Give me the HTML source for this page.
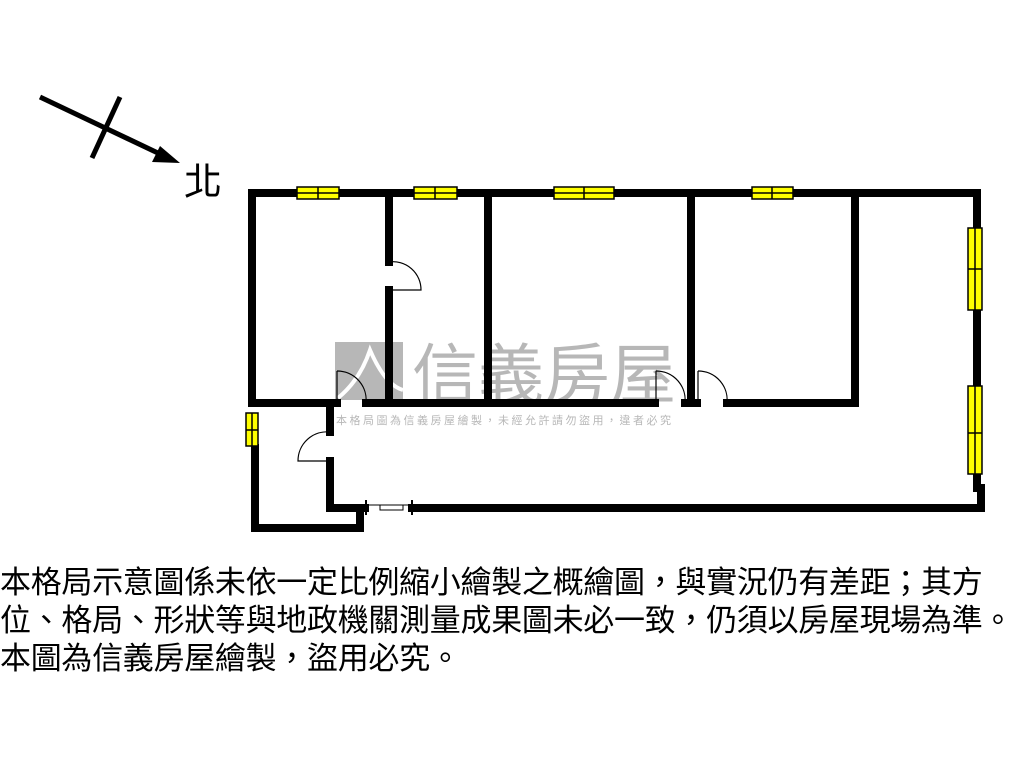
<!DOCTYPE html>
<html><head><meta charset="utf-8"><style>
body{margin:0;width:1024px;height:768px;background:#fff;overflow:hidden;position:relative;font-family:"Liberation Sans","Noto Sans CJK TC",sans-serif}
.t{position:absolute;left:0;top:561px;font-size:31px;line-height:38px;color:#000;white-space:nowrap;letter-spacing:-0.3px;font-family:"Noto Sans CJK TC","WenQuanYi Zen Hei",sans-serif}
</style></head><body>
<svg width="1024" height="768" style="position:absolute;left:0;top:0">
<g opacity="0.6">
<rect x="335" y="342" width="68" height="58" fill="#888"/>
<path d="M338 398 Q360 380 370 350 Q385 385 403 390" stroke="#fff" stroke-width="4" fill="none"/>
<text x="412" y="398" font-size="66" fill="#888" font-family="Noto Sans CJK TC,sans-serif">信義房屋</text>
<text x="336" y="424" font-size="11" fill="#888" font-family="Noto Sans CJK TC,sans-serif" letter-spacing="2.5">本格局圖為信義房屋繪製，未經允許請勿盜用，違者必究</text>
</g>
<line x1="40" y1="97" x2="160" y2="154" stroke="#000" stroke-width="5"/>
<polygon points="180,163 152,162 160,146" fill="#000"/>
<line x1="120" y1="97" x2="92" y2="158" stroke="#000" stroke-width="5"/>
<text x="184" y="195" font-size="38" font-family="Noto Sans CJK TC,sans-serif">北</text>
<g stroke="#000" stroke-width="8" fill="none" stroke-linecap="square">
<line x1="252" y1="193" x2="977" y2="193"/>
<line x1="252" y1="193" x2="252" y2="403"/>
<line x1="977" y1="193" x2="977" y2="488"/>
<line x1="981" y1="488" x2="981" y2="508"/>
<line x1="412" y1="508" x2="981" y2="508"/>
<line x1="389" y1="193" x2="389" y2="262"/>
<line x1="389" y1="290" x2="389" y2="403"/>
<line x1="488" y1="193" x2="488" y2="403"/>
<line x1="691" y1="193" x2="691" y2="403"/>
<line x1="855" y1="193" x2="855" y2="403"/>
<line x1="252" y1="403" x2="337" y2="403"/>
<line x1="366" y1="403" x2="655" y2="403"/>
<line x1="685" y1="403" x2="697" y2="403"/>
<line x1="727" y1="403" x2="855" y2="403"/>
<line x1="255" y1="448" x2="255" y2="528"/>
<line x1="255" y1="528" x2="360" y2="528"/>
<line x1="360" y1="508" x2="360" y2="528"/>
<line x1="330" y1="508" x2="365" y2="508"/>
<line x1="330" y1="403" x2="330" y2="432"/>
<line x1="330" y1="461" x2="330" y2="508"/>
</g>
<line x1="366" y1="505" x2="412" y2="505" stroke="#000" stroke-width="1"/>
<rect x="380" y="505" width="23" height="5" fill="#fff" stroke="#000" stroke-width="1"/>
<line x1="366" y1="500" x2="366" y2="515" stroke="#000" stroke-width="2"/>
<line x1="412" y1="500" x2="412" y2="515" stroke="#000" stroke-width="2"/>
<g stroke="#000" stroke-width="1.2" fill="none">
<path d="M389 262 A28 28 0 0 1 421 290 L389 290"/>
<path d="M337 371 A29 29 0 0 1 366 403"/><line x1="337" y1="371" x2="337" y2="407"/>
<path d="M656 371 A29 29 0 0 1 685 403"/><line x1="656" y1="371" x2="656" y2="407"/>
<path d="M698 371 A29 29 0 0 1 727 403"/><line x1="698" y1="371" x2="698" y2="407"/>
<path d="M330 432 A29 29 0 0 0 298 461 L330 461"/>
</g>
<g fill="#ff0" stroke="#000" stroke-width="1.5">
<rect x="297" y="187" width="42" height="12"/><line x1="297" y1="193" x2="339" y2="193"/><line x1="318" y1="187" x2="318" y2="199"/>
<rect x="414" y="187" width="43" height="12"/><line x1="414" y1="193" x2="457" y2="193"/><line x1="435" y1="187" x2="435" y2="199"/>
<rect x="554" y="187" width="60" height="12"/><line x1="554" y1="193" x2="614" y2="193"/><line x1="584" y1="187" x2="584" y2="199"/>
<rect x="752" y="187" width="41" height="12"/><line x1="752" y1="193" x2="793" y2="193"/><line x1="772" y1="187" x2="772" y2="199"/>
<rect x="246" y="413" width="12" height="33"/><line x1="252" y1="413" x2="252" y2="446"/><line x1="246" y1="430" x2="258" y2="430"/>
<rect x="968" y="228" width="14" height="82"/><line x1="975" y1="228" x2="975" y2="310"/><line x1="968" y1="269" x2="982" y2="269"/>
<rect x="968" y="386" width="14" height="88"/><line x1="975" y1="386" x2="975" y2="474"/><line x1="968" y1="433" x2="982" y2="433"/>
</g>
</svg>
<div class="t">本格局示意圖係未依一定比例縮小繪製之概繪圖，與實況仍有差距；其方<br>位、格局、形狀等與地政機關測量成果圖未必一致，仍須以房屋現場為準。<br>本圖為信義房屋繪製，盜用必究。</div>
</body></html>
